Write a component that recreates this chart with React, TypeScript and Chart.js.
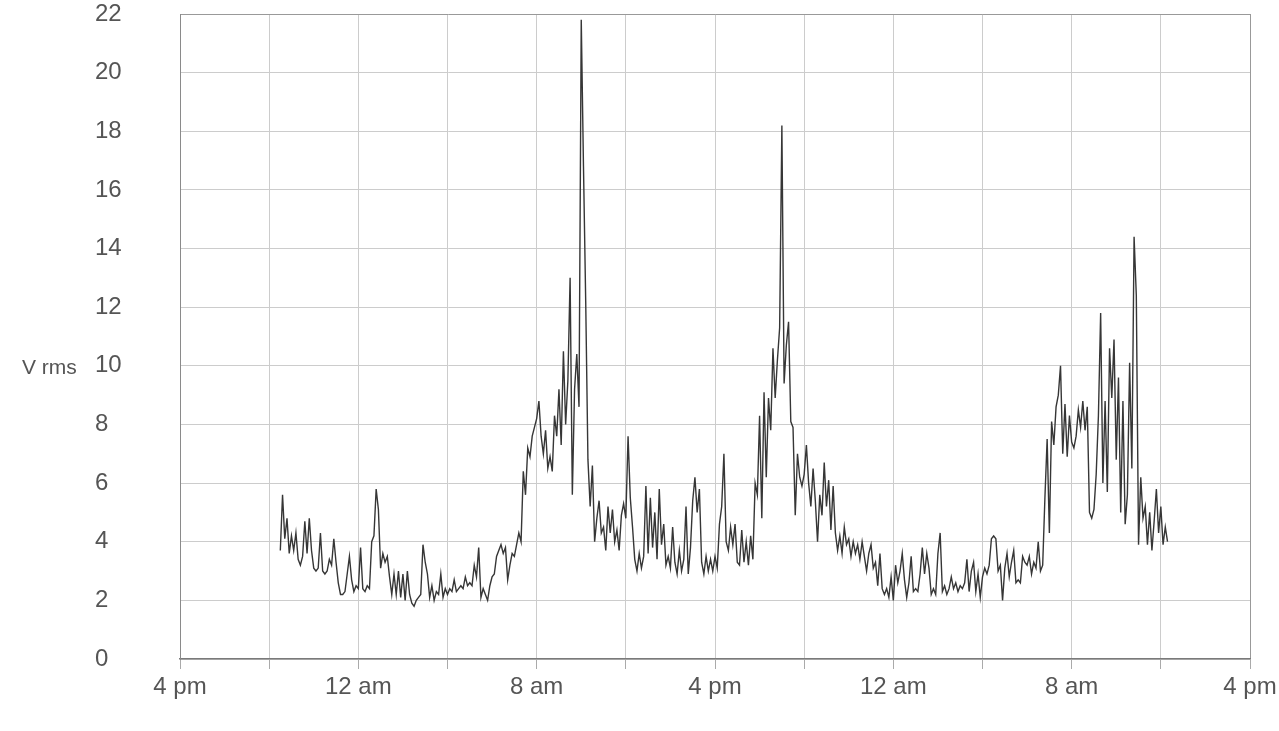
import React, { useEffect, useRef } from 'react';
import { Chart, registerables } from 'chart.js';

Chart.register(...registerables);

// Sampling of the recorded trace: first sample time (hours after the 4 pm origin) and interval
const START_HOUR = 4.5;
const STEP_HOURS = 0.1;

// RMS voltage readings, one row per hour of recording
const VRMS: number[] = [
  3.7, 5.6, 4.1, 4.8, 3.6,
  4.2, 3.7, 4.3, 3.4, 3.2, 3.5, 4.7, 3.6, 4.8, 3.7,
  3.1, 3.0, 3.1, 4.3, 3.0, 2.9, 3.0, 3.4, 3.2, 4.1,
  3.3, 2.6, 2.2, 2.2, 2.3, 2.9, 3.5, 2.7, 2.3, 2.5,
  2.4, 3.8, 2.4, 2.3, 2.5, 2.4, 4.0, 4.2, 5.8, 5.1,
  3.1, 3.6, 3.3, 3.5, 2.8, 2.2, 2.9, 2.2, 3.0, 2.1,
  2.9, 2.0, 3.0, 2.2, 1.9, 1.8, 2.0, 2.1, 2.2, 3.9,
  3.3, 2.9, 2.1, 2.5, 2.0, 2.3, 2.2, 2.9, 2.1, 2.4,
  2.2, 2.4, 2.3, 2.7, 2.3, 2.4, 2.5, 2.4, 2.8, 2.5,
  2.6, 2.5, 3.2, 2.8, 3.8, 2.1, 2.4, 2.2, 2.0, 2.5,
  2.8, 2.9, 3.5, 3.7, 3.9, 3.6, 3.8, 2.7, 3.2, 3.6,
  3.5, 3.9, 4.3, 4.0, 6.4, 5.6, 7.2, 6.9, 7.6, 7.9,
  8.2, 8.8, 7.6, 7.0, 7.8, 6.5, 6.9, 6.4, 8.3, 7.6,
  9.2, 7.3, 10.5, 8.0, 9.5, 13.0, 5.6, 9.2, 10.4, 8.6,
  21.8, 16.8, 12.2, 6.8, 5.2, 6.6, 4.0, 4.8, 5.4, 4.3,
  4.5, 3.7, 5.2, 4.3, 5.1, 4.0, 4.4, 3.7, 4.9, 5.3,
  4.8, 7.6, 5.5, 4.5, 3.4, 3.0, 3.6, 3.1, 3.5, 5.9,
  3.6, 5.5, 3.8, 5.0, 3.4, 5.8, 3.9, 4.6, 3.2, 3.5,
  3.1, 4.5, 3.3, 2.9, 3.7, 3.0, 3.4, 5.2, 2.9, 3.8,
  5.4, 6.2, 5.0, 5.8, 3.3, 2.9, 3.5, 3.0, 3.4, 3.0,
  3.5, 3.1, 4.6, 5.2, 7.0, 4.0, 3.7, 4.5, 3.9, 4.6,
  3.3, 3.2, 4.4, 3.3, 4.0, 3.2, 4.2, 3.4, 6.0, 5.6,
  8.3, 4.8, 9.1, 6.2, 8.9, 7.8, 10.6, 8.9, 10.2, 11.3,
  18.2, 9.4, 10.7, 11.5, 8.1, 7.9, 4.9, 7.0, 6.2, 5.9,
  6.3, 7.3, 6.0, 5.2, 6.5, 5.4, 4.0, 5.6, 4.9, 6.7,
  5.2, 6.1, 4.4, 5.9, 4.3, 3.7, 4.2, 3.6, 4.5, 3.9,
  4.1, 3.5, 4.0, 3.6, 3.9, 3.4, 4.0, 3.5, 3.0, 3.6,
  3.9, 3.1, 3.3, 2.5, 3.6, 2.4, 2.2, 2.4, 2.1, 2.8,
  2.0, 3.2, 2.6, 3.0, 3.6, 2.7, 2.1, 2.6, 3.5, 2.3,
  2.4, 2.3, 2.9, 3.8, 2.9, 3.6, 3.1, 2.2, 2.4, 2.2,
  3.6, 4.3, 2.3, 2.5, 2.2, 2.4, 2.8, 2.4, 2.6, 2.3,
  2.5, 2.4, 2.6, 3.4, 2.3, 3.0, 3.3, 2.3, 2.9, 2.1,
  2.8, 3.1, 2.9, 3.2, 4.1, 4.2, 4.1, 3.0, 3.2, 2.0,
  3.1, 3.6, 2.8, 3.3, 3.7, 2.6, 2.7, 2.6, 3.5, 3.3,
  3.2, 3.5, 2.9, 3.3, 3.1, 4.0, 3.0, 3.2, 5.5, 7.5,
  4.3, 8.1, 7.3, 8.6, 9.0, 10.0, 7.0, 8.7, 6.9, 8.3,
  7.4, 7.2, 7.6, 8.5, 7.9, 8.8, 7.8, 8.6, 5.0, 4.8,
  5.1, 6.3, 8.3, 11.8, 6.0, 8.8, 5.7, 10.6, 8.9, 10.9,
  6.8, 9.6, 5.0, 8.8, 4.6, 5.6, 10.1, 6.5, 14.4, 12.4,
  3.9, 6.2, 4.8, 5.2, 3.9, 5.0, 3.7, 4.7, 5.8, 4.3,
  5.2, 3.9, 4.5, 4.0,
];

// X axis: hours after the 4 pm origin, labelled every 8 hours
const X_MIN_HOUR = 0;
const X_MAX_HOUR = 48;
const X_GRID_STEP = 4;
const X_TICK_HOURS = [0, 8, 16, 24, 32, 40, 48];
const X_TICK_LABELS = ['4 pm', '12 am', '8 am', '4 pm', '12 am', '8 am', '4 pm'];

// Y axis
const Y_MIN = 0;
const Y_MAX = 22;
const Y_STEP = 2;
const Y_TITLE = 'V rms';

const FONT_FAMILY = '"Liberation Sans", Arial, Helvetica, sans-serif';
const TICK_FONT_SIZE = 24;
const TITLE_FONT_SIZE = 21;
const TEXT_COLOR = '#555555';

export default function App() {
  const canvasRef = useRef<HTMLCanvasElement>(null);

  useEffect(() => {
    const canvas = canvasRef.current;
    if (!canvas) return;

    const points = VRMS.map((v, i) => ({
      x: Math.round((START_HOUR + i * STEP_HOURS) * 100) / 100,
      y: v,
    }));

    const titlePlugin = {
      id: 'vrmsTitle',
      afterDraw(chart: any) {
        const ctx = chart.ctx;
        const y = chart.scales.y.getPixelForValue(10);
        ctx.save();
        ctx.font = `${TITLE_FONT_SIZE}px ${FONT_FAMILY}`;
        ctx.fillStyle = TEXT_COLOR;
        ctx.textAlign = 'left';
        ctx.textBaseline = 'middle';
        ctx.fillText(Y_TITLE, 22, y + 2);
        ctx.restore();
      },
    };

    const chart = new Chart(canvas, {
      type: 'line',
      data: {
        datasets: [
          {
            data: points,
            borderColor: '#363636',
            borderWidth: 1.4,
            pointRadius: 0,
            fill: false,
            tension: 0,
          },
        ],
      },
      options: {
        animation: false,
        responsive: false,
        layout: { padding: { left: 95, right: 29, top: 14, bottom: 0 } },
        plugins: {
          legend: { display: false },
          tooltip: { enabled: false },
        },
        scales: {
          x: {
            type: 'linear',
            min: X_MIN_HOUR,
            max: X_MAX_HOUR,
            ticks: {
              stepSize: X_GRID_STEP,
              autoSkip: false,
              maxRotation: 0,
              padding: 4,
              color: TEXT_COLOR,
              font: { family: FONT_FAMILY, size: TICK_FONT_SIZE },
              callback: (value: any) => {
                const idx = X_TICK_HOURS.indexOf(Number(value));
                return idx >= 0 ? X_TICK_LABELS[idx] : '';
              },
            },
            grid: {
              color: (ctx: any) => (ctx.tick && ctx.tick.value === X_MAX_HOUR ? '#999999' : '#cccccc'),
              tickColor: '#aaaaaa',
              tickLength: 10,
            },
            border: { color: '#7a7a7a', width: 1.5 },
            afterFit: (scale: any) => {
              scale.height = 72;
              scale.paddingLeft = 0;
              scale.paddingRight = 0;
            },
          },
          y: {
            type: 'linear',
            min: Y_MIN,
            max: Y_MAX,
            ticks: {
              stepSize: Y_STEP,
              crossAlign: 'far',
              color: TEXT_COLOR,
              font: { family: FONT_FAMILY, size: TICK_FONT_SIZE },
            },
            grid: {
              color: (ctx: any) => (ctx.tick && ctx.tick.value === Y_MAX ? '#999999' : '#cccccc'),
              drawTicks: false,
            },
            border: { color: '#8a8a8a', width: 1 },
            afterFit: (scale: any) => {
              scale.width = 85;
              scale.paddingTop = 0;
              scale.paddingBottom = 0;
            },
          },
        },
      },
      plugins: [titlePlugin],
    });

    return () => chart.destroy();
  }, []);

  return (
    <div style={{ position: 'fixed', left: 0, top: 0, width: 1279, height: 731, background: '#ffffff' }}>
      <canvas ref={canvasRef} width={1279} height={731} style={{ display: 'block' }} />
    </div>
  );
}
